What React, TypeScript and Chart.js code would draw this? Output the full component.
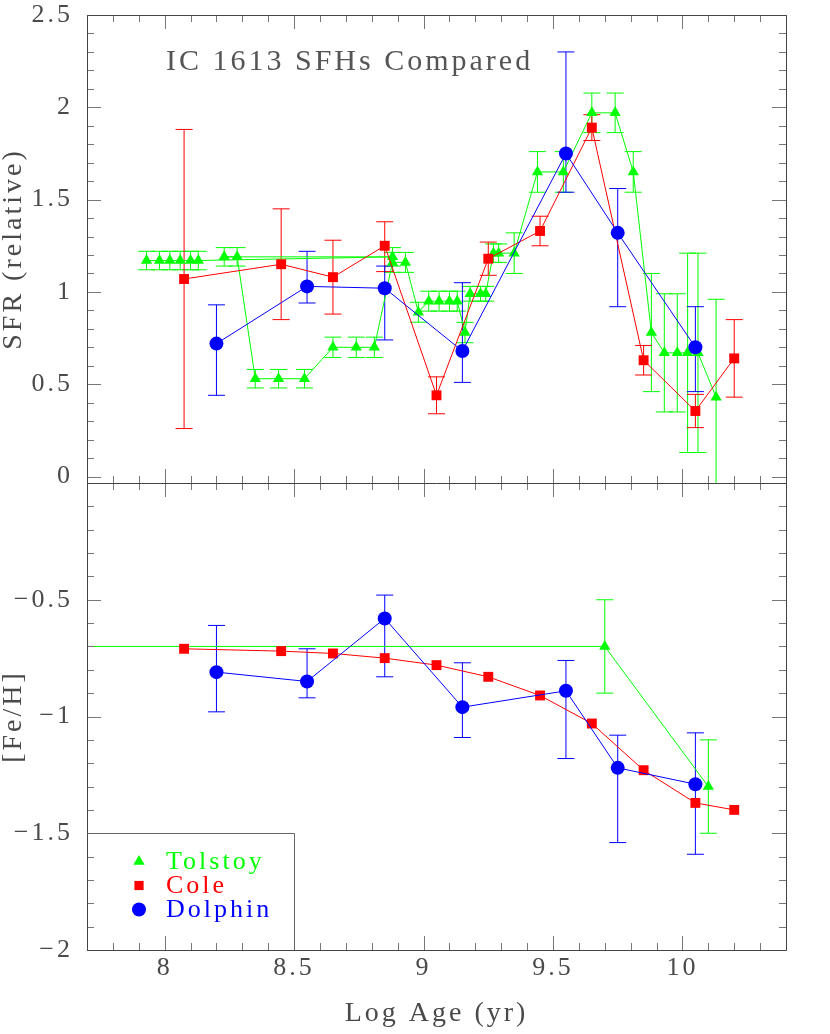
import React, { useEffect, useRef } from 'react';
import { Chart, registerables } from 'chart.js';

Chart.register(...registerables);

// ---------- data (log age in yr) ----------
const seriesNames = ['Tolstoy', 'Cole', 'Dolphin'];
const titleText = 'IC 1613 SFHs Compared';
const xTitle = 'Log Age (yr)';
const sfrTitle = 'SFR (relative)';
const fehTitle = '[Fe/H]';

const xTicks = [8, 8.5, 9, 9.5, 10];
const sfrTicks = [0, 0.5, 1, 1.5, 2, 2.5];
const fehTicks = [-2, -1.5, -1, -0.5];

// Tolstoy SFR (in the order the curve was drawn)
const tolstoySfrAge = [7.93, 7.98, 8.02, 8.06, 8.10, 8.13, 8.88, 8.23, 8.28, 8.35, 8.44, 8.54, 8.65, 8.74, 8.81, 8.88, 8.93, 8.98, 9.02, 9.06, 9.10, 9.13, 9.16, 9.18, 9.22, 9.24, 9.27, 9.29, 9.35, 9.44, 9.54, 9.65, 9.74, 9.81, 9.88, 9.93, 9.98, 10.02, 10.06, 10.13];
const tolstoySfr = [1.17, 1.17, 1.17, 1.17, 1.17, 1.17, 1.19, 1.19, 1.19, 0.53, 0.53, 0.53, 0.70, 0.70, 0.70, 1.16, 1.16, 0.89, 0.95, 0.95, 0.95, 0.95, 0.78, 0.99, 0.99, 0.99, 1.21, 1.21, 1.21, 1.65, 1.65, 1.97, 1.97, 1.65, 0.78, 0.67, 0.67, 0.67, 0.67, 0.43];
const tolstoySfrErr = [0.05, 0.05, 0.05, 0.05, 0.05, 0.05, 0.05, 0.05, 0.05, 0.05, 0.05, 0.05, 0.055, 0.055, 0.055, 0.054, 0.054, 0.054, 0.054, 0.054, 0.054, 0.054, 0.055, 0.04, 0.04, 0.04, 0.05, 0.05, 0.11, 0.11, 0.11, 0.107, 0.107, 0.11, 0.32, 0.32, 0.32, 0.54, 0.54, 0.53];

// Cole SFR
const coleSfrAge = [8.075, 8.45, 8.65, 8.85, 9.05, 9.25, 9.45, 9.65, 9.85, 10.05, 10.2];
const coleSfr = [1.07, 1.15, 1.08, 1.25, 0.44, 1.18, 1.33, 1.89, 0.63, 0.355, 0.64];
const coleSfrErrUp = [0.81, 0.30, 0.20, 0.13, 0.10, 0.09, 0.08, 0.07, 0.08, 0.09, 0.21];
const coleSfrErrDn = [0.81, 0.30, 0.20, 0.14, 0.10, 0.09, 0.08, 0.07, 0.08, 0.09, 0.21];

// Dolphin SFR
const dolphinSfrAge = [8.2, 8.55, 8.85, 9.15, 9.55, 9.75, 10.05];
const dolphinSfr = [0.72, 1.03, 1.02, 0.68, 1.75, 1.32, 0.70];
const dolphinSfrErrUp = [0.21, 0.19, 0.12, 0.37, 0.55, 0.24, 0.22];
const dolphinSfrErrDn = [0.28, 0.09, 0.28, 0.17, 0.21, 0.40, 0.24];

// Tolstoy [Fe/H]
const tolstoyFehAge = [7.0, 9.7, 10.1];
const tolstoyFeh = [-0.70, -0.70, -1.30];
const tolstoyFehErr = [0, 0.2, 0.2];

// Cole [Fe/H]
const coleFehAge = [8.075, 8.45, 8.65, 8.85, 9.05, 9.25, 9.45, 9.65, 9.85, 10.05, 10.2];
const coleFeh = [-0.71, -0.72, -0.73, -0.75, -0.78, -0.83, -0.91, -1.03, -1.23, -1.37, -1.40];

// Dolphin [Fe/H]
const dolphinFehAge = [8.2, 8.55, 8.85, 9.15, 9.55, 9.75, 10.05];
const dolphinFeh = [-0.81, -0.85, -0.58, -0.96, -0.89, -1.22, -1.29];
const dolphinFehErrUp = [0.20, 0.14, 0.10, 0.19, 0.13, 0.14, 0.22];
const dolphinFehErrDn = [0.17, 0.07, 0.25, 0.13, 0.29, 0.32, 0.30];

// ---------- styling ----------
const GREEN = '#00ff00';
const RED = '#ff0000';
const BLUE = '#0000ff';
const FONT = "'Liberation Serif', 'DejaVu Serif', serif";
const TEXT = '#4a4a4a';
const CAP = 8.5;

const fmt = (v: number) => {
  const s = String(Math.round(Math.abs(v) * 100) / 100);
  return v < 0 ? '\u2212' + s : s;
};

function drawMarker(ctx: CanvasRenderingContext2D, style: string, x: number, y: number, r: number, color: string) {
  ctx.save();
  ctx.fillStyle = color;
  ctx.beginPath();
  if (style === 'triangle') {
    const a = -Math.PI / 2;
    for (let k = 0; k < 3; k++) {
      const ang = a + (k * 2 * Math.PI) / 3;
      const px = x + Math.cos(ang) * r;
      const py = y + Math.sin(ang) * r;
      if (k === 0) ctx.moveTo(px, py); else ctx.lineTo(px, py);
    }
    ctx.closePath();
  } else if (style === 'rect') {
    const s = r * Math.SQRT1_2;
    ctx.rect(x - s, y - s, 2 * s, 2 * s);
  } else {
    ctx.arc(x, y, r, 0, Math.PI * 2);
  }
  ctx.fill();
  ctx.restore();
}

export default function App() {
  const ref = useRef<HTMLCanvasElement>(null);

  useEffect(() => {
    const canvas = ref.current;
    if (!canvas) return;

    const pts = (xs: number[], ys: number[]) => xs.map((x, i) => ({ x, y: ys[i] }));

    const styles = [
      { color: GREEN, style: 'triangle', radius: 6.5 },
      { color: RED, style: 'rect', radius: 7 },
      { color: BLUE, style: 'circle', radius: 7 },
    ];

    const ds = (idx: number, xs: number[], ys: number[], axis: string, order: number) => ({
      label: seriesNames[idx],
      data: pts(xs, ys),
      xAxisID: 'x',
      yAxisID: axis,
      showLine: true,
      borderColor: styles[idx].color,
      backgroundColor: styles[idx].color,
      borderWidth: 1,
      pointStyle: styles[idx].style,
      pointRadius: styles[idx].radius,
      pointHoverRadius: styles[idx].radius,
      pointBorderWidth: 0,
      pointBackgroundColor: styles[idx].color,
      order,
    });

    const errSeries = [
      { xs: tolstoySfrAge, ys: tolstoySfr, up: tolstoySfrErr, dn: tolstoySfrErr, color: GREEN, axis: 'ySfr' },
      { xs: coleSfrAge, ys: coleSfr, up: coleSfrErrUp, dn: coleSfrErrDn, color: RED, axis: 'ySfr' },
      { xs: dolphinSfrAge, ys: dolphinSfr, up: dolphinSfrErrUp, dn: dolphinSfrErrDn, color: BLUE, axis: 'ySfr' },
      { xs: tolstoyFehAge, ys: tolstoyFeh, up: tolstoyFehErr, dn: tolstoyFehErr, color: GREEN, axis: 'yFeh' },
      { xs: dolphinFehAge, ys: dolphinFeh, up: dolphinFehErrUp, dn: dolphinFehErrDn, color: BLUE, axis: 'yFeh' },
    ];

    const spacingPlugin = {
      id: 'spacing',
      beforeDraw(chart: any) {
        (chart.ctx as any).letterSpacing = '3px';
      },
    };

    const errorBarPlugin = {
      id: 'errorBars',
      beforeDatasetsDraw(chart: any) {
        const ctx: CanvasRenderingContext2D = chart.ctx;
        const xs = chart.scales.x;
        errSeries.forEach((s) => {
          const ys = chart.scales[s.axis];
          ctx.save();
          ctx.beginPath();
          ctx.rect(xs.left, ys.top, xs.right - xs.left, ys.bottom - ys.top);
          ctx.clip();
          ctx.strokeStyle = s.color;
          ctx.lineWidth = 1;
          s.xs.forEach((x, i) => {
            if (!s.up[i] && !s.dn[i]) return;
            const px = xs.getPixelForValue(x);
            const pt = ys.getPixelForValue(s.ys[i] + s.up[i]);
            const pb = ys.getPixelForValue(s.ys[i] - s.dn[i]);
            ctx.beginPath();
            ctx.moveTo(px, pt);
            ctx.lineTo(px, pb);
            ctx.moveTo(px - CAP, pt);
            ctx.lineTo(px + CAP, pt);
            ctx.moveTo(px - CAP, pb);
            ctx.lineTo(px + CAP, pb);
            ctx.stroke();
          });
          ctx.restore();
        });
      },
    };

    const framePlugin = {
      id: 'frame',
      afterDatasetsDraw(chart: any) {
        const ctx: CanvasRenderingContext2D = chart.ctx;
        const { left, right, top, bottom } = chart.chartArea;
        const xs = chart.scales.x;
        const ySfr = chart.scales.ySfr;
        const yFeh = chart.scales.yFeh;
        const mid = ySfr.bottom;
        ctx.save();
        ctx.strokeStyle = '#777777';
        ctx.lineWidth = 1;
        ctx.beginPath();
        // x ticks
        for (let k = Math.ceil(xs.min * 10); k <= Math.floor(xs.max * 10); k++) {
          const px = Math.round(xs.getPixelForValue(k / 10)) + 0.5;
          const len = k % 5 === 0 ? 14 : 7;
          ctx.moveTo(px, top); ctx.lineTo(px, top + len);
          ctx.moveTo(px, mid - len); ctx.lineTo(px, mid + len);
          ctx.moveTo(px, bottom); ctx.lineTo(px, bottom - len);
        }
        // y ticks SFR
        for (let k = Math.ceil(ySfr.min * 10); k <= Math.floor(ySfr.max * 10); k++) {
          const py = Math.round(ySfr.getPixelForValue(k / 10)) + 0.5;
          const len = k % 5 === 0 ? 14 : 7;
          ctx.moveTo(left, py); ctx.lineTo(left + len, py);
          ctx.moveTo(right, py); ctx.lineTo(right - len, py);
        }
        // y ticks Fe/H
        for (let k = Math.ceil(yFeh.min * 10); k < Math.floor(yFeh.max * 10); k++) {
          const py = Math.round(yFeh.getPixelForValue(k / 10)) + 0.5;
          const len = k % 5 === 0 ? 14 : 7;
          ctx.moveTo(left, py); ctx.lineTo(left + len, py);
          ctx.moveTo(right, py); ctx.lineTo(right - len, py);
        }
        ctx.stroke();
        // frame
        ctx.strokeStyle = '#444444';
        ctx.beginPath();
        ctx.rect(Math.round(left) + 0.5, Math.round(top) + 0.5, Math.round(right - left), Math.round(bottom - top));
        ctx.moveTo(left, Math.round(mid) + 0.5);
        ctx.lineTo(right, Math.round(mid) + 0.5);
        ctx.stroke();

        // legend box (bounded by x = 8.5 and [Fe/H] = -1.5)
        const bx = Math.round(xs.getPixelForValue(8.5)) + 0.5;
        const by = Math.round(yFeh.getPixelForValue(-1.5)) + 0.5;
        ctx.strokeStyle = '#666666';
        ctx.beginPath();
        ctx.moveTo(left, by);
        ctx.lineTo(bx, by);
        ctx.lineTo(bx, bottom);
        ctx.stroke();

        // legend entries
        ctx.textBaseline = 'middle';
        ctx.textAlign = 'left';
        ctx.font = `26px ${FONT}`;
        seriesNames.forEach((name, i) => {
          const rowY = by + 28 + i * 24;
          const st = styles[i];
          drawMarker(ctx, st.style, left + 52, rowY, st.style === 'rect' ? 6.5 : st.radius, st.color);
          ctx.fillStyle = st.color;
          ctx.fillText(name, left + 79, rowY + 1);
        });

        // title
        ctx.fillStyle = '#555555';
        ctx.font = `30px ${FONT}`;
        ctx.fillText(titleText, left + 79, top + 47);
        ctx.restore();
      },
    };

    const tickFont = { family: FONT, size: 26 };
    const titleFont = { family: FONT, size: 28, lineHeight: 1 };

    const fitY = (s: any) => {
      s.width = 87;
      s.paddingTop = 0;
      s.paddingBottom = 0;
    };
    const fitX = (s: any) => {
      s.height = 84;
      s.paddingLeft = 0;
      s.paddingRight = 0;
    };

    const chart = new Chart(canvas, {
      type: 'scatter',
      data: {
        datasets: [
          ds(0, tolstoySfrAge, tolstoySfr, 'ySfr', 2),
          ds(1, coleSfrAge, coleSfr, 'ySfr', 1),
          ds(2, dolphinSfrAge, dolphinSfr, 'ySfr', 0),
          ds(0, tolstoyFehAge, tolstoyFeh, 'yFeh', 2),
          ds(1, coleFehAge, coleFeh, 'yFeh', 1),
          ds(2, dolphinFehAge, dolphinFeh, 'yFeh', 0),
        ] as any,
      },
      options: {
        animation: false,
        responsive: false,
        maintainAspectRatio: false,
        devicePixelRatio: 1,
        layout: { padding: { top: 15, right: 44, left: 0, bottom: 0 } },
        plugins: {
          legend: { display: false },
          tooltip: { enabled: false },
          title: { display: false },
        },
        events: [],
        scales: {
          x: {
            type: 'linear',
            position: 'bottom',
            min: 7.7,
            max: 10.4,
            grid: { display: false, drawTicks: false },
            border: { display: false },
            afterBuildTicks: (s: any) => { s.ticks = xTicks.map((v) => ({ value: v })); },
            afterFit: fitX,
            ticks: { font: tickFont, color: TEXT, padding: 3, maxRotation: 0, autoSkip: false, callback: (v: any) => fmt(Number(v)) },
            title: { display: true, text: xTitle, font: titleFont, color: TEXT, padding: { top: 0, bottom: 6 } },
          },
          ySfr: {
            type: 'linear',
            position: 'left',
            stack: 'panels',
            stackWeight: 468,
            weight: 2,
            min: -0.035,
            max: 2.5,
            grid: { display: false, drawTicks: false },
            border: { display: false },
            afterBuildTicks: (s: any) => { s.ticks = sfrTicks.map((v) => ({ value: v })); },
            afterFit: fitY,
            ticks: { font: tickFont, color: TEXT, padding: 14, autoSkip: false, callback: (v: any) => fmt(Number(v)) },
            title: { display: true, text: sfrTitle, font: titleFont, color: TEXT, padding: { top: 0, bottom: 0 } },
          },
          yFeh: {
            type: 'linear',
            position: 'left',
            stack: 'panels',
            stackWeight: 467,
            weight: 1,
            min: -2,
            max: 0,
            grid: { display: false, drawTicks: false },
            border: { display: false },
            afterBuildTicks: (s: any) => { s.ticks = fehTicks.map((v) => ({ value: v })); },
            afterFit: fitY,
            ticks: { font: tickFont, color: TEXT, padding: 14, autoSkip: false, callback: (v: any) => fmt(Number(v)) },
            title: { display: true, text: fehTitle, font: titleFont, color: TEXT, padding: { top: 0, bottom: 0 } },
          },
        },
      } as any,
      plugins: [spacingPlugin, errorBarPlugin, framePlugin],
    });

    return () => chart.destroy();
  }, []);

  return (
    <div style={{ position: 'fixed', left: 0, top: 0, width: 830, height: 1034, background: '#ffffff', overflow: 'hidden' }}>
      <canvas ref={ref} width={830} height={1034} style={{ display: 'block' }} />
    </div>
  );
}
